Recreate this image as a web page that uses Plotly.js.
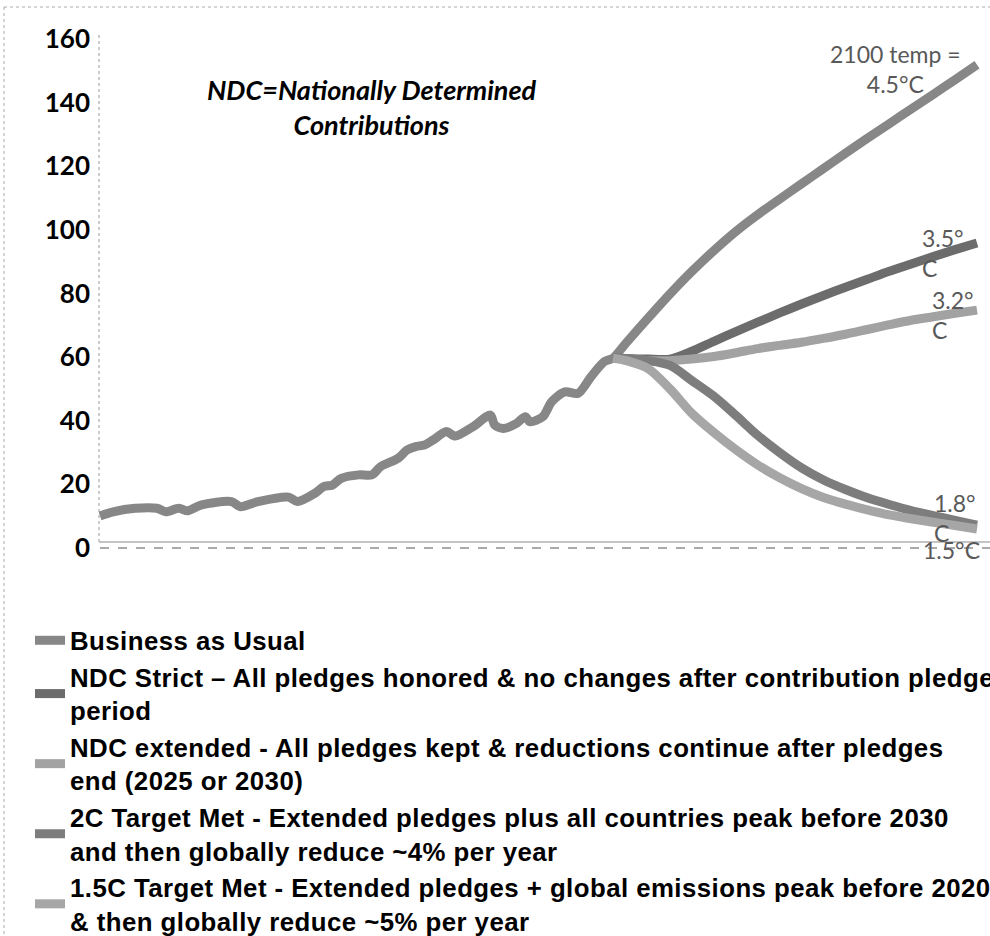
<!DOCTYPE html>
<html><head><meta charset="utf-8">
<script src="https://cdn.plot.ly/plotly-3.0.1.min.js"></script>
<style>html,body{margin:0;padding:0;background:#fff;}#chart{width:990px;height:936px;}
#chart .legendtext{letter-spacing:0.45px;}
#chart g.scrollbox{clip-path:none !important;}</style>
</head><body><div id="chart"></div>
<script>
// Historical emissions (Business as Usual, observed part)
const histYears = [1900,1903,1908,1913,1915,1918,1920,1923,1930,1932,1936,1943,1945,1949,1951,1953,1955,1959,1962,1964,1968,1970,1972,1974,1976,1979,1981,1985,1989,1990,1992,1995,1997,1998,2001,2003,2006,2009,2012,2015];
const histBAU   = [8.2,9.5,10.6,10.6,9.5,10.6,9.8,11.6,12.7,11.1,12.7,14.1,12.7,15.3,17.4,17.9,20.0,21.1,21.1,23.7,26.3,28.9,30.0,30.5,32.1,34.7,33.3,36.2,39.9,36.8,35.7,37.3,39.4,37.8,39.4,44.1,47.2,46.7,52.0,56.7];

// Projection scenarios
const projYears   = [2017,2020,2025,2030,2035,2040,2045,2050,2055,2060,2065,2070,2075,2080,2085,2090,2095,2100];
const bauProj     = [57.8,62.6,70.4,78.0,85.1,91.6,97.6,102.9,107.8,112.6,117.4,122.2,126.9,131.5,136.1,140.7,145.3,150.0];
const ndcStrict   = [57.8,57.7,57.5,57.5,60.0,63.1,66.1,69.1,72.0,74.8,77.5,80.1,82.6,85.1,87.4,89.7,91.9,94.0];
const ndcExtended = [57.8,57.5,57.0,57.0,57.5,58.3,59.5,60.8,61.8,62.8,64.0,65.3,66.8,68.3,69.7,70.8,71.9,72.9];
const target2C    = [57.8,57.6,57.0,55.5,50.7,45.8,39.8,33.5,28.1,23.3,19.5,16.5,13.9,11.8,9.9,8.3,6.8,5.3];
const target15C   = [57.8,57.0,54.5,48.1,40.4,34.4,29.0,24.2,20.2,16.8,14.0,11.9,10.1,8.5,7.3,6.2,5.2,4.1];

const seriesNames = [
  "Business as Usual",
  "NDC Strict \u2013 All pledges honored & no changes after contribution pledge<br>period",
  "NDC extended - All pledges kept & reductions continue after pledges<br>end (2025 or 2030)",
  "2C Target Met - Extended pledges plus all countries peak before 2030<br>and then globally reduce ~4% per year",
  "1.5C Target Met - Extended pledges + global emissions peak before 2020<br>& then globally reduce ~5% per year"
];
const yTicks = [0,20,40,60,80,100,120,140,160];

const colors = ['#878787','#6c6c6c','#a2a2a2','#7d7d7d','#a6a6a6'];
const lw = 9;

function tr(x, y, i) {
  return {x: x, y: y, name: seriesNames[i], type: 'scatter', mode: 'lines',
    line: {color: colors[i], width: lw, shape: 'spline', smoothing: 0.8}, hoverinfo: 'skip'};
}

const traces = [
  tr(histYears.concat(projYears), histBAU.concat(bauProj), 0),
  tr(projYears, ndcStrict, 1),
  tr(projYears, ndcExtended, 2),
  tr(projYears, target2C, 3),
  tr(projYears, target15C, 4)
];

const labFont = {family: 'Lato, "Open Sans", sans-serif', size: 23, color: '#595959'};
const W = 990, H = 936, L = 99, R = 9, T = 33, B = 394;
const pw = W - L - R, ph = H - T - B;
function px(xpix) { return (xpix - L) / pw; }
function py(ypix) { return (H - B - ypix) / ph; }

const layout = {
  width: W, height: H,
  margin: {l: L, r: R, t: T, b: B, autoexpand: false},
  paper_bgcolor: '#fff', plot_bgcolor: '#fff',
  showlegend: true,
  xaxis: {range: [1899.772, 2100.91], showticklabels: false, showgrid: false, zeroline: false, showline: false, ticks: ''},
  yaxis: {range: [0, 160], tickvals: yTicks, ticktext: yTicks.map(String), showgrid: false, zeroline: false, showline: false, ticks: '',
    ticklabelstandoff: 8, ticklabelshift: 6,
    tickfont: {family: 'Lato, "Open Sans", sans-serif', size: 26, color: '#000', weight: 700}},
  legend: {x: 30 / W, xref: 'container', y: 1 - 617 / H, yref: 'container', xanchor: 'left', yanchor: 'top',
    font: {family: '"Liberation Sans", Arial, sans-serif', size: 25.8, color: '#000', weight: 700},
    bgcolor: 'rgba(0,0,0,0)', tracegroupgap: 0, itemclick: false},
  shapes: [
    {type: 'line', xref: 'paper', yref: 'paper', x0: 0, x1: 0, y0: 0, y1: 1, line: {color: '#9a9a9a', width: 1, dash: 'dot'}},
    {type: 'line', xref: 'paper', yref: 'paper', x0: 0, x1: px(990), y0: 0, y1: 0, line: {color: '#c4c4c4', width: 2}},
    {type: 'line', xref: 'paper', yref: 'paper', x0: px(100), x1: px(990), y0: py(548), y1: py(548), line: {color: '#555', width: 1, dash: 'dash'}},
    {type: 'line', xref: 'paper', yref: 'paper', x0: px(4), x1: px(990), y0: py(7), y1: py(7), line: {color: '#aaa', width: 1, dash: 'dot'}},
    {type: 'line', xref: 'paper', yref: 'paper', x0: px(4), x1: px(4), y0: py(7), y1: py(936), line: {color: '#aaa', width: 1, dash: 'dot'}}
  ],
  annotations: [
    {xref: 'paper', yref: 'paper', x: px(372), y: py(107), xanchor: 'center', yanchor: 'middle', showarrow: false, align: 'center',
      text: '<b><i>NDC=Nationally Determined<br>Contributions</i></b>', font: {family: 'Lato, "Open Sans", sans-serif', size: 27, color: '#000'}},
    {xref: 'x', yref: 'y', x: 2081.3, y: 148.7, xanchor: 'center', yanchor: 'middle', showarrow: false, align: 'center',
      text: '2100 temp =<br>4.5\u00b0C', font: labFont},
    {xref: 'x', yref: 'y', x: 2087.0, y: 90.7, xanchor: 'left', yanchor: 'middle', showarrow: false, align: 'left',
      text: '3.5\u00b0<br>C', font: labFont},
    {xref: 'x', yref: 'y', x: 2089.3, y: 71.4, xanchor: 'left', yanchor: 'middle', showarrow: false, align: 'left',
      text: '3.2\u00b0<br>C', font: labFont},
    {xref: 'x', yref: 'y', x: 2089.8, y: 7.5, xanchor: 'left', yanchor: 'middle', showarrow: false, align: 'left',
      text: '1.8\u00b0<br>C', font: labFont},
    {xref: 'paper', yref: 'paper', x: px(921), y: py(550), xanchor: 'left', yanchor: 'middle', showarrow: false, align: 'left',
      text: '1.5\u00b0C', font: labFont}
  ]
};

Plotly.newPlot('chart', traces, layout, {displayModeBar: false, staticPlot: true});
</script></body></html>
